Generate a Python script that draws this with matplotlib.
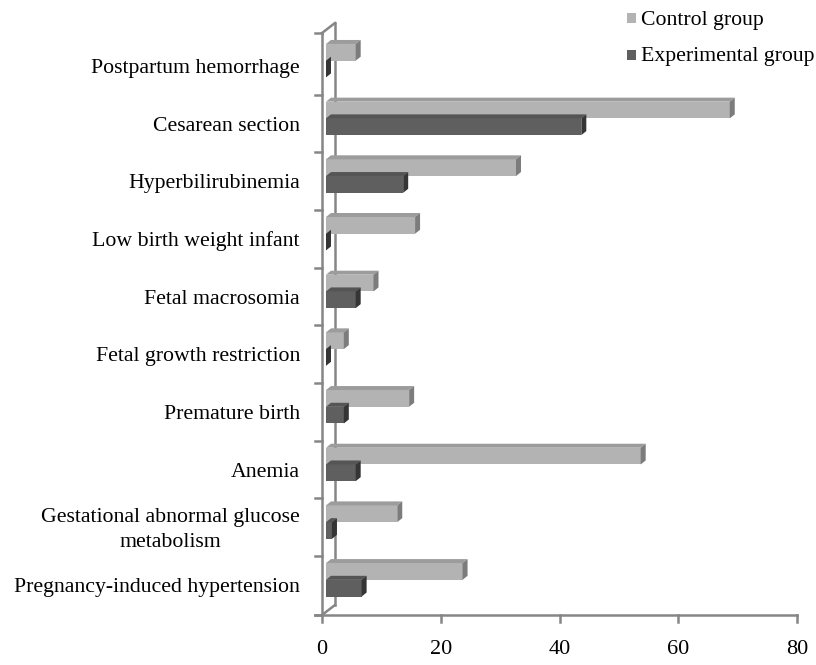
import matplotlib
matplotlib.use("Agg")
import matplotlib.pyplot as plt
from matplotlib.patches import Polygon, Rectangle

categories = [
    "Pregnancy-induced hypertension",
    "Gestational abnormal glucose\nmetabolism",
    "Anemia",
    "Premature birth",
    "Fetal growth restriction",
    "Fetal macrosomia",
    "Low birth weight infant",
    "Hyperbilirubinemia",
    "Cesarean section",
    "Postpartum hemorrhage",
]
control = [23, 12, 53, 14, 3, 8, 15, 32, 68, 5]
experimental = [6, 1, 5, 3, 0, 5, 0, 13, 43, 0]
series_names = ["Control group", "Experimental group"]
xticks = [0, 20, 40, 60, 80]

W, H = 816, 665
plt.rcParams['font.family'] = ['Liberation Serif', 'DejaVu Serif']
fig = plt.figure(figsize=(W / 100, H / 100), dpi=100)

x0p, x1p, ybp, ytp = 322, 797, 615, 33
ax = fig.add_axes([x0p / W, (H - ybp) / H, (x1p - x0p) / W, (ybp - ytp) / H])
ymin, ymax = -0.52, 9.57
ax.set_xlim(0, 80)
ax.set_ylim(ymin, ymax)
ax.axis("off")

ux = 80 / (x1p - x0p)          # data units per pixel (x)
uy = (ymax - ymin) / (ybp - ytp)  # data units per pixel (y)

axis_col = "#868686"
lw = 1.8
# back wall line and connecting diagonals
bdx, bdy = 13 * ux, 10 * uy
ax.plot([bdx, bdx], [ymin + bdy, ymax + bdy], color=axis_col, lw=lw, zorder=1, clip_on=False)
ax.plot([0, bdx], [ymin, ymin + bdy], color=axis_col, lw=lw, zorder=1, clip_on=False)
ax.plot([0, bdx], [ymax, ymax + bdy], color=axis_col, lw=lw, zorder=1, clip_on=False)
# front axis
ax.plot([0, 0], [ymin, ymax], color=axis_col, lw=lw, zorder=5, clip_on=False)
ax.plot([-7 * ux, 80], [ymin, ymin], color=axis_col, lw=lw, zorder=5, clip_on=False)
ticky = [ymin] + [i + 0.5 for i in range(len(categories) - 1)] + [ymax]
for t in ticky:
    ax.plot([-7 * ux, 0], [t, t], color=axis_col, lw=lw, zorder=5, clip_on=False)
for t in xticks:
    ax.plot([t, t], [ymin, ymin - 7 * uy], color=axis_col, lw=lw, zorder=5, clip_on=False)
    ax.text(t, ymin - 35 * uy, str(t), ha="center", va="center", fontsize=16)

base = 4 * ux
dx, dy = 5 * ux, 4 * uy
bh = 0.29
styles = [
    ("#b3b3b3", "#9c9c9c", "#7c7c7c", 0.09),
    ("#5f5f5f", "#555555", "#353535", -0.20),
]
for vals, (front, top, side, off) in zip([control, experimental], styles):
    for i, v in enumerate(vals):
        y0 = i + off
        x1 = base + v
        ax.add_patch(Rectangle((base, y0), v, bh, facecolor=front, edgecolor="none", zorder=3))
        ax.add_patch(Polygon([(base, y0 + bh), (base + dx, y0 + bh + dy), (x1 + dx, y0 + bh + dy), (x1, y0 + bh)],
                             closed=True, facecolor=top, edgecolor="none", zorder=3))
        ax.add_patch(Polygon([(x1, y0), (x1 + dx, y0 + dy), (x1 + dx, y0 + bh + dy), (x1, y0 + bh)],
                             closed=True, facecolor=side, edgecolor="none", zorder=3))

for i, c in enumerate(categories):
    ax.text(-22 * ux, i - 2.5 * uy, c, ha="right", va="center", fontsize=15.7, multialignment="center",
            linespacing=1.45)

# legend
for k, (name, col) in enumerate(zip(series_names, ["#b3b3b3", "#5f5f5f"])):
    py = 18 + 37 * k
    fig.patches.append(Rectangle((627 / W, (H - py - 4.5) / H), 9 / W, 9 / H, facecolor=col,
                                 edgecolor="none", transform=fig.transFigure, figure=fig))
    fig.text(641 / W, (H - py - 2) / H, name, ha="left", va="center", fontsize=15.7)

fig.savefig("out.png", dpi=100)
